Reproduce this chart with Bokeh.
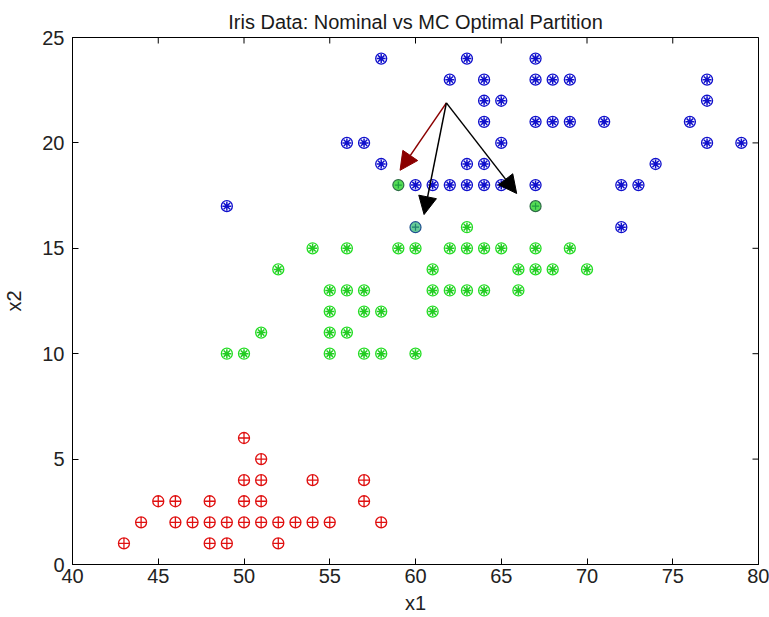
import math
from bokeh.plotting import figure
from bokeh.models import (Range1d, SingleIntervalTicker, Arrow, NormalHead)
from bokeh.embed import file_html
from bokeh.resources import INLINE

# ---- data ----
setosa_x = [50, 51, 50, 51, 54, 57, 45, 46, 48, 50, 51, 57,
            44, 46, 47, 48, 49, 50, 51, 52, 53, 54, 55, 58,
            43, 48, 49, 52]
setosa_y = [6, 5, 4, 4, 4, 4, 3, 3, 3, 3, 3, 3,
            2, 2, 2, 2, 2, 2, 2, 2, 2, 2, 2, 2,
            1, 1, 1, 1]

versicolor_x = [63,
                54, 56, 59, 60, 62, 63, 64, 65, 67, 69,
                52, 61, 66, 67, 68, 70,
                55, 56, 57, 61, 62, 63, 64, 66,
                55, 57, 58, 61,
                51, 55, 56,
                49, 50, 55, 57, 58, 60]
versicolor_y = [16,
                15, 15, 15, 15, 15, 15, 15, 15, 15, 15,
                14, 14, 14, 14, 14, 14,
                13, 13, 13, 13, 13, 13, 13, 13,
                12, 12, 12, 12,
                11, 11, 11,
                10, 10, 10, 10, 10, 10]

virginica_x = [58, 63, 67,
               62, 64, 67, 68, 69, 77,
               64, 65, 77,
               64, 67, 68, 69, 71, 76,
               56, 57, 65, 77, 79,
               58, 63, 64, 74,
               60, 61, 62, 63, 64, 65, 67, 72, 73,
               49,
               72]
virginica_y = [24, 24, 24,
               23, 23, 23, 23, 23, 23,
               22, 22, 22,
               21, 21, 21, 21, 21, 21,
               20, 20, 20, 20, 20,
               19, 19, 19, 19,
               18, 18, 18, 18, 18, 18, 18, 18, 18,
               17,
               16]

# points whose class changed under the MC optimal partition
moved_x = [59, 67]
moved_y = [18, 17]
moved_b_x = [60]
moved_b_y = [16]

# arrows pointing from a common origin at the changed points
arrow_origin = (61.8, 21.9)
arrow_tips_x = [59.1, 60.5, 65.9]
arrow_tips_y = [18.7, 16.6, 17.6]
arrow_colors = ["#8b0000", "black", "black"]

x_min, x_max = 40, 80
y_min, y_max = 0, 25
x_ticks = [40, 45, 50, 55, 60, 65, 70, 75, 80]
y_ticks = [0, 5, 10, 15, 20, 25]

FONT = "Liberation Sans"

p = figure(width=769, height=617, output_backend="svg", toolbar_location=None,
           x_range=Range1d(x_min, x_max), y_range=Range1d(y_min, y_max),
           min_border_left=72, min_border_right=11, min_border_top=37, min_border_bottom=53,
           title="Iris Data: Nominal vs MC Optimal Partition")
p.background_fill_color = "white"
p.border_fill_color = "white"
p.outline_line_color = "black"
p.outline_line_width = 1
p.xgrid.visible = False
p.ygrid.visible = False

p.title.align = "center"
p.title.text_font = FONT
p.title.text_font_size = "20px"
p.title.text_font_style = "normal"
p.title.text_color = "#1a1a1a"
p.title.standoff = 10

for ax, iv in ((p.xaxis[0], 5), (p.yaxis[0], 5)):
    ax.ticker = SingleIntervalTicker(interval=iv, num_minor_ticks=0)
    ax.major_tick_in = 6
    ax.major_tick_out = 0
    ax.minor_tick_line_color = None
    ax.axis_line_color = "black"
    ax.major_tick_line_color = "black"
    ax.major_label_text_font = FONT
    ax.major_label_text_font_size = "20px"
    ax.major_label_text_color = "#222222"
    ax.axis_label_text_font = FONT
    ax.axis_label_text_font_size = "20px"
    ax.axis_label_text_font_style = "normal"
    ax.axis_label_text_color = "#222222"

p.xaxis.axis_label = "x1"
p.yaxis.axis_label = "x2"
p.xaxis.major_label_standoff = 4
p.xaxis.axis_label_standoff = 6
p.yaxis.major_label_standoff = 8
p.yaxis.axis_label_standoff = 14

# inward ticks along the top and right edges of the box
p.scatter(x_ticks, [y_max] * len(x_ticks), marker="dash", size=12, angle=math.pi / 2,
          line_color="black", line_width=1)
p.scatter([x_max] * len(y_ticks), y_ticks, marker="dash", size=12,
          line_color="black", line_width=1)

MS = 11
# setosa: red circle with plus
p.scatter(setosa_x, setosa_y, marker="circle_cross", size=MS, line_color="#e01010",
          fill_color=None, line_width=1.3)
# versicolor: green circle with asterisk
p.scatter(versicolor_x, versicolor_y, marker="circle", size=MS, line_color="#22dd22",
          fill_color=None, line_width=1.3)
p.scatter(versicolor_x, versicolor_y, marker="asterisk", size=9, line_color="#22cc22",
          line_width=1.5)
# virginica: blue circle with asterisk
p.scatter(virginica_x, virginica_y, marker="circle", size=MS, line_color="#1010cc",
          fill_color=None, line_width=1.3)
p.scatter(virginica_x, virginica_y, marker="asterisk", size=9, line_color="#1010cc",
          line_width=1.5)
# changed points
p.scatter(moved_x, moved_y, marker="circle", size=MS, line_color="#2d6b46",
          fill_color="#55dd55", line_width=1.2)
p.scatter(moved_x, moved_y, marker="cross", size=7, line_color="#1f9f3f", line_width=1.2)
p.scatter(moved_b_x, moved_b_y, marker="circle", size=MS, line_color="#1f4f8f",
          fill_color="#66cc99", line_width=1.2)
p.scatter(moved_b_x, moved_b_y, marker="cross", size=7, line_color="#1f7f6f", line_width=1.2)

for tx, ty, c in zip(arrow_tips_x, arrow_tips_y, arrow_colors):
    p.add_layout(Arrow(end=NormalHead(size=18, fill_color=c, line_color=c),
                       x_start=arrow_origin[0], y_start=arrow_origin[1],
                       x_end=tx, y_end=ty, line_color=c, line_width=1.5))

open("out.html", "w").write(file_html(p, INLINE))
